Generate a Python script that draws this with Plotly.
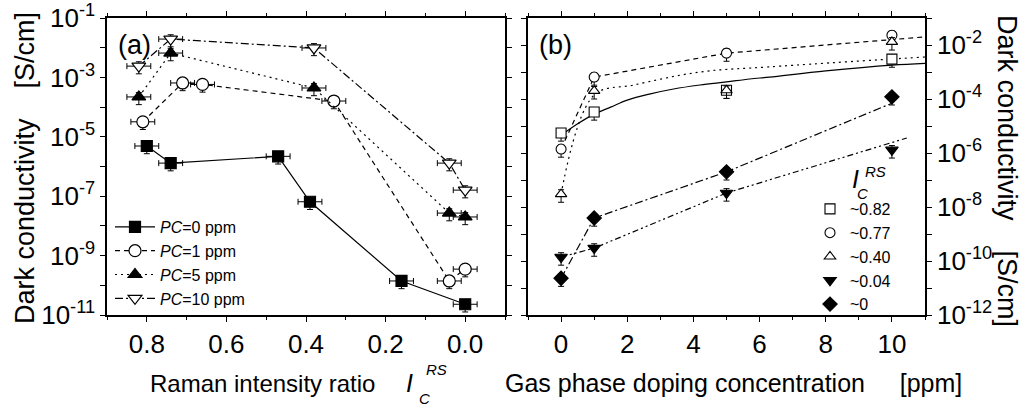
import plotly.graph_objects as go

FONT = "Liberation Sans, Arial, sans-serif"

# ---------------- Panel (a) data ----------------
pc0_ic = [0.80, 0.74, 0.47, 0.39, 0.16, 0.00]
pc0_sigma = [4.9e-6, 1.3e-6, 2.2e-6, 6.5e-8, 1.4e-10, 2.3e-11]

pc1_ic = [0.81, 0.71, 0.66, 0.33, 0.04, 0.00]
pc1_sigma = [3.2e-5, 6.5e-4, 5.8e-4, 1.6e-4, 1.4e-10, 3.5e-10]

pc5_ic = [0.82, 0.74, 0.38, 0.04, 0.00]
pc5_sigma = [2.2e-4, 6.6e-3, 4.4e-4, 2.7e-8, 2.0e-8]

pc10_ic = [0.82, 0.74, 0.38, 0.04, 0.00]
pc10_sigma = [2.4e-3, 1.95e-2, 9.8e-3, 1.3e-6, 1.6e-7]

ic_err = 0.03          # horizontal error on I_C^RS
sig_err_up = 0.40      # relative error (upper)
sig_err_dn = 0.45      # relative error (lower)

# ---------------- Panel (b) data ----------------
ppm = [0, 1, 5, 10]
s082 = [5.5e-6, 3.3e-5, 2.1e-4, 3.0e-3]
s077 = [1.4e-6, 6.5e-4, 5.0e-3, 2.3e-2]
s040 = [3.0e-8, 2.0e-4, 2.1e-4, 1.3e-2]
s004 = [1.4e-10, 3.0e-10, 3.3e-8, 1.3e-6]
s000 = [2.3e-11, 3.9e-9, 2.0e-7, 1.2e-4]

# guide / fit lines
fit082_x = [0, 0.5, 1, 1.5, 2, 2.7, 3.4, 4.2, 5, 5.7, 6.3, 8, 10, 11]
fit082_y = [4.5e-6, 1.2e-5, 2.75e-5, 5.0e-5, 9.1e-5, 1.55e-4, 2.35e-4, 3.3e-4,
            4.3e-4, 5.5e-4, 6.5e-4, 1.1e-3, 1.8e-3, 2.1e-3]
fit077_x = [0, 1, 5, 11]
fit077_y = [1.4e-6, 6.5e-4, 5.0e-3, 2.0e-2]
fit040_x = [0, 1, 2.2, 4.2, 6.3, 11]
fit040_y = [3.0e-8, 1.4e-4, 3.3e-4, 1.0e-3, 1.55e-3, 3.6e-3]
fit004_x = [0, 1, 5, 10.45]
fit004_y = [1.4e-10, 3.0e-10, 3.3e-8, 3.6e-6]
fit000_x = [0, 1, 5, 10]
fit000_y = [2.3e-11, 3.9e-9, 2.0e-7, 7.0e-5]

legend_a = ["<i>PC</i>=0 ppm", "<i>PC</i>=1 ppm", "<i>PC</i>=5 ppm", "<i>PC</i>=10 ppm"]
legend_b = ["~0.82", "~0.77", "~0.40", "~0.04", "~0"]

fig = go.Figure()

def ebars(vals):
    return dict(type="data", array=[v * sig_err_up for v in vals],
                arrayminus=[v * sig_err_dn for v in vals],
                color="black", thickness=1, width=3)

def xbars():
    return dict(type="constant", value=ic_err, color="black", thickness=1, width=3)

series_a = [
    (pc0_ic, pc0_sigma, legend_a[0], "solid", "square", "black", 11),
    (pc1_ic, pc1_sigma, legend_a[1], "5px,4px", "circle", "white", 12),
    (pc5_ic, pc5_sigma, legend_a[2], "2px,4px", "triangle-up", "black", 12),
    (pc10_ic, pc10_sigma, legend_a[3], "8px,3px,2px,3px", "triangle-down", "white", 12),
]
for xs, ys, name, dash, sym, fill, size in series_a:
    fig.add_trace(go.Scatter(
        x=xs, y=ys, name=name, mode="lines+markers",
        line=dict(color="black", width=1.2, dash=dash),
        marker=dict(symbol=sym, size=size, color=fill, line=dict(color="black", width=1.2)),
        error_x=xbars(), error_y=ebars(ys),
        xaxis="x", yaxis="y", legend="legend"))

# panel (b) lines
lines_b = [
    (fit082_x, fit082_y, "solid", "spline"),
    (fit077_x, fit077_y, "5px,4px", "linear"),
    (fit040_x, fit040_y, "2px,4px", "spline"),
    (fit004_x, fit004_y, "6px,3px,2px,3px,2px,3px", "linear"),
    (fit000_x, fit000_y, "8px,3px,2px,3px", "linear"),
]
for xs, ys, dash, shape in lines_b:
    fig.add_trace(go.Scatter(
        x=xs, y=ys, mode="lines", showlegend=False,
        line=dict(color="black", width=1.2, dash=dash, shape=shape),
        xaxis="x2", yaxis="y2"))

series_b = [
    (s082, legend_b[0], "square", "white", 10),
    (s077, legend_b[1], "circle", "white", 10),
    (s040, legend_b[2], "triangle-up", "white", 10),
    (s004, legend_b[3], "triangle-down", "black", 11),
    (s000, legend_b[4], "diamond", "black", 11),
]
for ys, name, sym, fill, size in series_b:
    fig.add_trace(go.Scatter(
        x=ppm, y=ys, name=name, mode="markers",
        marker=dict(symbol=sym, size=size, color=fill, line=dict(color="black", width=1.1)),
        error_y=dict(type="data", array=[v * 0.45 for v in ys],
                     arrayminus=[v * 0.5 for v in ys],
                     color="black", thickness=1, width=3),
        xaxis="x2", yaxis="y2", legend="legend2"))

W, H = 1026, 409
def px(x): return x / W
def py(y): return 1 - y / H

def sup(e): return "10<sup>%d</sup>" % e

axis_common = dict(showline=True, linecolor="black", linewidth=1.5, mirror="allticks",
                   ticks="outside", ticklen=5, tickwidth=1.2, tickcolor="black",
                   showgrid=False, zeroline=False, automargin=False,
                   tickfont=dict(family=FONT, size=26, color="black"))

left_exps = list(range(-11, 0))
right_exps = list(range(-12, 0))

fig.update_layout(
    template="none",
    width=W, height=H, margin=dict(l=0, r=0, t=0, b=0, autoexpand=False),
    paper_bgcolor="white", plot_bgcolor="white",
    font=dict(family=FONT, color="black"),
    xaxis=dict(domain=[px(107), px(505)], range=[0.9, -0.1], anchor="y",
               tickvals=[0.8, 0.6, 0.4, 0.2, 0.0], ticktext=["0.8", "0.6", "0.4", "0.2", "0.0"],
               minor=dict(dtick=0.1, tick0=0, ticklen=3, ticks="outside", tickcolor="black", tickwidth=1.2),
               **axis_common),
    yaxis=dict(domain=[py(315), py(18)], type="log", range=[-11, -1], anchor="x",
               tickvals=[10.0 ** e for e in left_exps],
               ticktext=[sup(e) if e % 2 else "" for e in left_exps],
               **axis_common),
    xaxis2=dict(domain=[px(528), px(925)], range=[-1, 11], anchor="y2",
                tickvals=[0, 2, 4, 6, 8, 10], ticktext=["0", "2", "4", "6", "8", "10"],
                minor=dict(dtick=1, tick0=0, ticklen=3, ticks="outside", tickcolor="black", tickwidth=1.2),
                **axis_common),
    yaxis2=dict(domain=[py(315), py(18)], type="log", range=[-12, -1], anchor="x2", side="right",
                tickvals=[10.0 ** e for e in right_exps],
                ticktext=[sup(e) if e % 2 == 0 else "" for e in right_exps],
                **axis_common),
    legend=dict(x=px(110), y=py(210), xanchor="left", yanchor="top",
                bgcolor="rgba(0,0,0,0)", font=dict(family=FONT, size=16, color="black"),
                tracegroupgap=0, itemwidth=40),
    legend2=dict(x=px(810), y=py(192), xanchor="left", yanchor="top",
                 bgcolor="rgba(0,0,0,0)", font=dict(family=FONT, size=16, color="black"),
                 tracegroupgap=0, itemwidth=30),
)

ann = []
def A(text, x, y, size, **kw):
    d = dict(text=text, x=px(x), y=py(y), xref="paper", yref="paper", showarrow=False,
             xanchor="center", yanchor="middle",
             font=dict(family=FONT, size=size, color="black"))
    d.update(kw)
    ann.append(d)

NB = "\u00a0"
A("(a)", 134, 45, 27)
A("(b)", 555, 45, 27)
A("Raman intensity ratio", 262, 383, 24)
A("<i>I</i>", 409, 383, 25)
A("<i>RS</i>", 436, 369, 15)
A("<i>C</i>", 424, 398, 15)
A("Gas phase doping concentration" + NB * 5 + "[ppm]", 733, 383, 25)
A("Dark conductivity" + NB * 4 + "[S/cm]", 25, 168, 27, textangle=-90)
A("Dark conductivity" + NB * 4 + "[S/cm]", 1007, 171, 27, textangle=90)
A("<i>I</i>", 855, 179, 25)
A("<i>RS</i>", 875, 171, 15)
A("<i>C</i>", 862, 193, 15)
fig.update_layout(annotations=ann)

fig.write_html("out.html")
